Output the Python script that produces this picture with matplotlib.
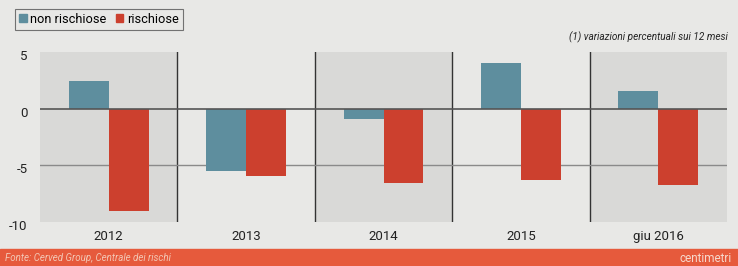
import matplotlib
matplotlib.use("Agg")
import matplotlib.pyplot as plt
from matplotlib.patches import Patch, Rectangle
from matplotlib.transforms import ScaledTranslation

plt.rcParams['font.family'] = ['Roboto', 'DejaVu Sans']

categories = ["2012", "2013", "2014", "2015", "giu 2016"]
non_rischiose = [2.4, -5.5, -0.9, 4.0, 1.6]
rischiose = [-9.0, -5.9, -6.6, -6.3, -6.7]
yticks = [5, 0, -5, -10]
series_labels = ["non rischiose", "rischiose"]

BG = "#e8e8e6"
SHADE = "#d9d9d7"
BLUE = "#5e8e9e"
RED = "#cc402e"
FOOT = "#e65a3c"

fig = plt.figure(figsize=(7.38, 2.66), dpi=100, facecolor=BG)
ax = fig.add_axes([40/738, 1-222/266, 687/738, 170/266])
ax.set_facecolor(BG)

n = len(categories)
ax.set_xlim(-0.5, n - 0.5)
ax.set_ylim(-10, 5)

for i in range(n):
    if i % 2 == 0:
        ax.axvspan(i - 0.5, i + 0.5, color=SHADE, zorder=0, lw=0)
for i in range(n - 1):
    ax.axvline(i + 0.5, color="#333333", lw=1.0, zorder=1)

ax.axhline(-5, color="#8a8a8a", lw=1.0, zorder=1)

w = 0.29
x = list(range(n))
ax.bar([xi - w/2 for xi in x], non_rischiose, width=w, color=BLUE, zorder=2, label=series_labels[0])
ax.bar([xi + w/2 for xi in x], rischiose, width=w, color=RED, zorder=2, label=series_labels[1])
ax.axhline(0, color="#555555", lw=1.2, zorder=3)

ax.set_yticks(yticks)
ax.set_yticklabels([str(v) for v in yticks], fontsize=9.5, color="#222222")
ax.set_xticks(x)
ax.set_xticklabels(categories, fontsize=9.5, color="#222222")
ax.tick_params(length=0, pad=6)
ax.tick_params(axis='y', pad=9)
for lab in ax.get_yticklabels():
    lab.set_transform(lab.get_transform() + ScaledTranslation(0, -3/100, fig.dpi_scale_trans))
for s in ax.spines.values():
    s.set_visible(False)

handles = [Patch(facecolor=BLUE, edgecolor=BLUE), Patch(facecolor=RED, edgecolor=RED)]
leg = fig.legend(handles, series_labels, loc="upper left", bbox_to_anchor=(15/738, 1-9/266),
                 ncol=2, frameon=True, fancybox=False, fontsize=9.2, handlelength=0.6,
                 handleheight=0.6, handletextpad=0.3, columnspacing=0.7, borderpad=0.3,
                 borderaxespad=0)
leg.get_frame().set_edgecolor("#555555")
leg.get_frame().set_facecolor(BG)
leg.get_frame().set_linewidth(0.8)

fig.text(728/738, 1-37/266, "(1) variazioni percentuali sui 12 mesi", ha="right", va="center",
         fontsize=7.2, style="italic", color="#222222")

fig.patches.append(Rectangle((0, 0), 1, 17/266, transform=fig.transFigure, color=FOOT, zorder=0))
fig.text(5/738, 8/266, "Fonte: Cerved Group, Centrale dei rischi", ha="left", va="center",
         fontsize=7, style="italic", color="#f3c6b4")
fig.text(732/738, 8/266, "centimetri", ha="right", va="center", fontsize=8.5, color="#f7d8cc")

fig.savefig("out.png", dpi=100, facecolor=BG)
